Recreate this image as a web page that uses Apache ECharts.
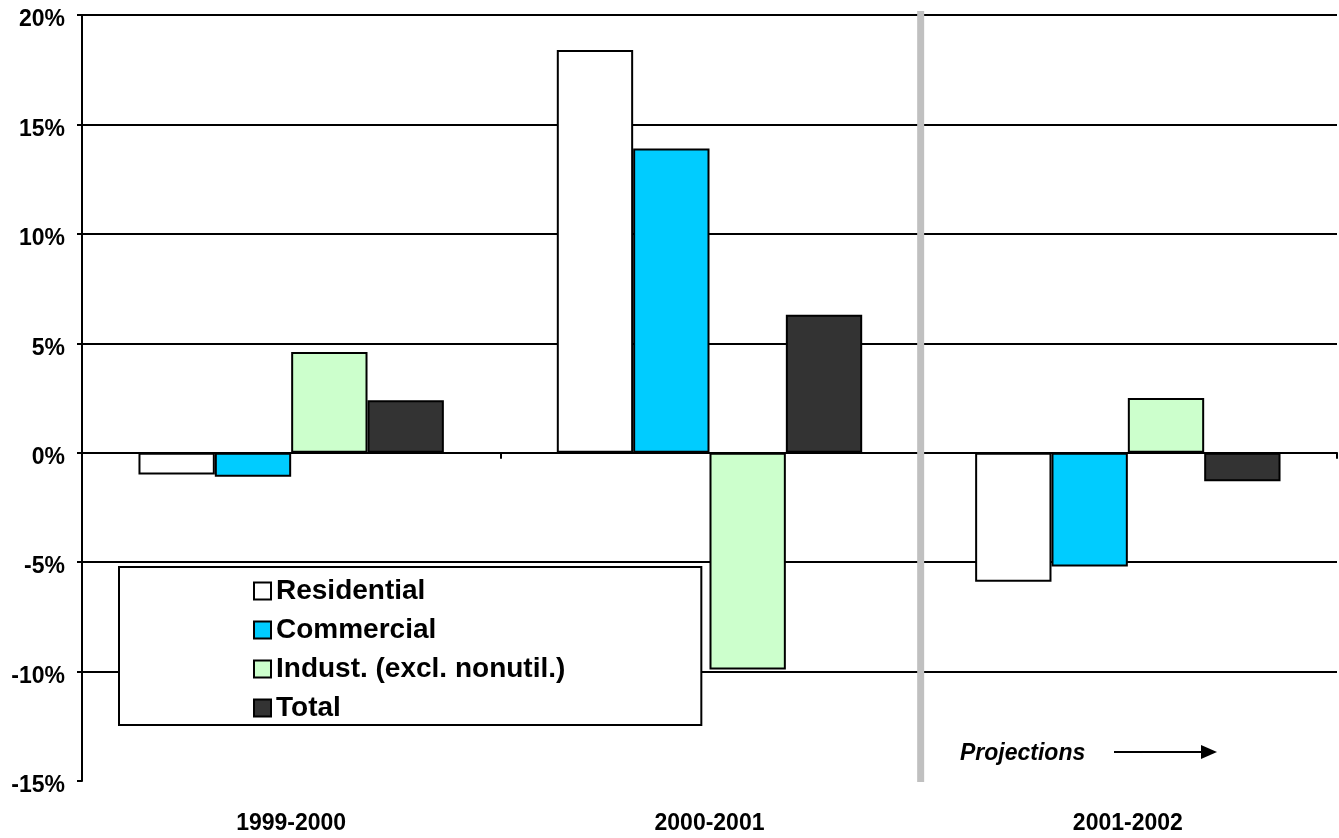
<!DOCTYPE html>
<html>
<head>
<meta charset="utf-8">
<script src="https://cdn.jsdelivr.net/npm/echarts@6/dist/echarts.min.js"></script>
<style>
  html, body { margin: 0; padding: 0; background: #ffffff; }
  #chart { width: 1339px; height: 838px; }
</style>
</head>
<body>
<div id="chart"></div>
<script>
// Annual change in sales by sector (percent)
const periods = ['1999-2000', '2000-2001', '2001-2002'];
const residential = [-1.0, 18.4, -5.9];
const commercial = [-1.1, 13.9, -5.2];
const industrial = [4.6, -9.9, 2.5];
const total = [2.4, 6.3, -1.3];

const seriesNames = ['Residential', 'Commercial', 'Indust. (excl. nonutil.)', 'Total'];
const seriesValues = [residential, commercial, industrial, total];
const seriesColors = ['#ffffff', '#00ccff', '#ccffcc', '#333333'];

// Value axis range and step (percent)
const yMin = -15;
const yMax = 20;
const yStep = 5;

const FONT = '"Liberation Sans", Arial, sans-serif';

// One colour per gridline, the first (bottom) one left out
const gridColors = [];
for (let v = yMin; v <= yMax; v += yStep) {
  gridColors.push(v === yMin ? 'rgba(0,0,0,0)' : '#000000');
}

const chart = echarts.init(document.getElementById('chart'), null, { renderer: 'canvas' });

const option = {
  backgroundColor: '#ffffff',
  animation: false,
  grid: { left: 82, right: 2, top: 15, bottom: 57, containLabel: false },
  legend: {
    orient: 'vertical',
    left: 119,
    top: 567,
    data: seriesNames,
    icon: 'rect',
    itemWidth: 17,
    itemHeight: 17,
    itemGap: 11,
    padding: [10, 136, 3, 134],
    backgroundColor: '#ffffff',
    borderColor: '#000000',
    borderWidth: 2,
    textStyle: { fontFamily: FONT, fontWeight: 'bold', fontSize: 28, lineHeight: 28, color: '#000000' },
    selectedMode: false,
    z: 10
  },
  xAxis: [
    {
      type: 'category',
      data: periods,
      position: 'bottom',
      axisLine: { show: false, onZero: false },
      axisTick: { show: false },
      splitLine: { show: false },
      axisLabel: { fontFamily: FONT, fontWeight: 'bold', fontSize: 23, color: '#000000', margin: 31 }
    },
    {
      type: 'category',
      data: periods,
      position: 'bottom',
      axisLine: { show: true, onZero: true, lineStyle: { color: '#000000', width: 2 } },
      axisTick: { show: true, length: 6, lineStyle: { color: '#000000', width: 2 } },
      axisLabel: { show: false },
      splitLine: { show: false }
    }
  ],
  yAxis: {
    type: 'value',
    min: yMin,
    max: yMax,
    interval: yStep,
    axisLine: { show: true, lineStyle: { color: '#000000', width: 2 } },
    axisTick: { show: true, length: 5, lineStyle: { color: '#000000', width: 2 } },
    splitLine: { show: true, lineStyle: { color: gridColors, width: 2 } },
    axisLabel: {
      fontFamily: FONT, fontWeight: 'bold', fontSize: 23, color: '#000000', margin: 17,
      verticalAlign: 'top',
      lineHeight: 10,
      formatter: '{value}%'
    }
  },
  series: seriesNames.map((name, i) => ({
    name: name,
    type: 'bar',
    xAxisIndex: 0,
    data: seriesValues[i],
    barGap: '0%',
    barCategoryGap: '27%',
    itemStyle: { color: seriesColors[i], borderColor: '#000000', borderWidth: 2 },
    emphasis: { disabled: true }
  }))
};

chart.setOption(option);

// Divider between actual and projected periods, plus the "Projections" note
const c1 = chart.convertToPixel({ xAxisIndex: 0 }, periods[1]);
const c2 = chart.convertToPixel({ xAxisIndex: 0 }, periods[2]);
const divX = (c1 + c2) / 2 + 2;
const yTop = chart.convertToPixel({ yAxisIndex: 0 }, yMax);
const yBot = chart.convertToPixel({ yAxisIndex: 0 }, yMin);

chart.setOption({
  graphic: [
    {
      type: 'rect',
      shape: { x: divX - 3.5, y: yTop - 4, width: 7, height: yBot - yTop + 5 },
      style: { fill: '#c0c0c0' },
      z: 5
    },
    {
      type: 'text',
      left: 960,
      top: 742,
      style: { text: 'Projections', font: 'italic bold 23px ' + FONT, fill: '#000000' },
      z: 6
    },
    {
      type: 'line',
      shape: { x1: 1114, y1: 752, x2: 1203, y2: 752 },
      style: { stroke: '#000000', lineWidth: 2 },
      z: 6
    },
    {
      type: 'polygon',
      shape: { points: [[1201, 745], [1217, 752], [1201, 759]] },
      style: { fill: '#000000' },
      z: 6
    }
  ]
});
</script>
</body>
</html>
